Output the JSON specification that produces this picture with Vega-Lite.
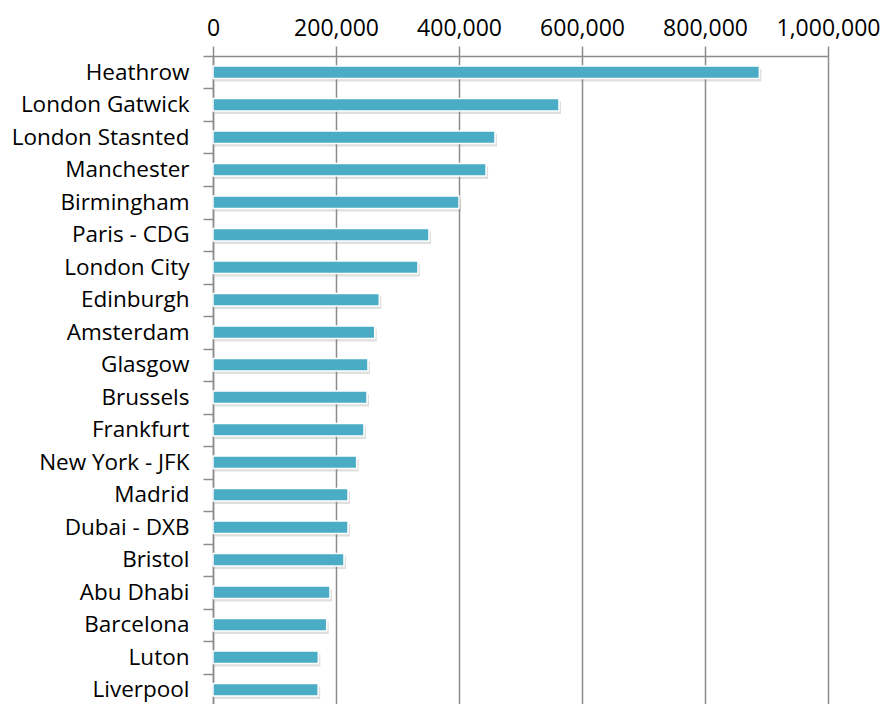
{
  "$schema": "https://vega.github.io/schema/vega-lite/v6.json",
  "width": 615,
  "height": 650,
  "autosize": {"type": "none"},
  "padding": {"left": 213, "top": 56, "right": 54, "bottom": 0},
  "background": "white",
  "config": {
    "view": {"stroke": null},
    "font": "Open Sans"
  },
  "data": {
    "values": [
      {"airport": "Heathrow", "value": 888400},
      {"airport": "London Gatwick", "value": 562600},
      {"airport": "London Stasnted", "value": 458500},
      {"airport": "Manchester", "value": 444000},
      {"airport": "Birmingham", "value": 400000},
      {"airport": "Paris  - CDG", "value": 351200},
      {"airport": "London City", "value": 333300},
      {"airport": "Edinburgh", "value": 270400},
      {"airport": "Amsterdam", "value": 263000},
      {"airport": "Glasgow", "value": 252000},
      {"airport": "Brussels", "value": 250400},
      {"airport": "Frankfurt", "value": 245500},
      {"airport": "New York - JFK", "value": 233600},
      {"airport": "Madrid", "value": 219500},
      {"airport": "Dubai - DXB", "value": 219500},
      {"airport": "Bristol", "value": 213000},
      {"airport": "Abu Dhabi", "value": 190200},
      {"airport": "Barcelona", "value": 184900},
      {"airport": "Luton", "value": 171300},
      {"airport": "Liverpool", "value": 171000}
    ]
  },
  "encoding": {
    "y": {
      "field": "airport",
      "type": "nominal",
      "sort": null,
      "scale": {"paddingInner": 0.62, "paddingOuter": 0.31},
      "axis": {
        "title": null,
        "orient": "left",
        "domainColor": "#8c8c8c",
        "domainWidth": 1.5,
        "tickColor": "#8c8c8c",
        "tickWidth": 1.5,
        "tickSize": 10,
        "tickBand": "center",
        "tickOffset": -16.25,
        "labelOffset": 16.25,
        "labelFontSize": 22.5,
        "labelLimit": 400,
        "labelColor": "#000000",
        "labelPadding": 14,
        "labelFont": "Open Sans",
        "grid": false
      }
    },
    "x": {
      "field": "value",
      "type": "quantitative",
      "scale": {"domain": [0, 1000000], "nice": false},
      "axis": {
        "title": null,
        "orient": "top",
        "values": [0, 200000, 400000, 600000, 800000, 1000000],
        "format": ",d",
        "labelOverlap": false,
        "labelFlush": false,
        "domainColor": "#8c8c8c",
        "domainWidth": 1.5,
        "tickColor": "#8c8c8c",
        "tickWidth": 1.5,
        "tickSize": 10,
        "grid": true,
        "gridColor": "#8c8c8c",
        "gridWidth": 1.5,
        "labelFontSize": 23,
        "labelColor": "#000000",
        "labelPadding": 6,
        "labelFont": "Open Sans"
      }
    }
  },
  "layer": [
    {
      "mark": {"type": "bar", "color": "#7f7f7f", "opacity": 0.25, "xOffset": 2, "yOffset": 3}
    },
    {
      "mark": {"type": "bar", "color": "#4BACC6", "stroke": "#ffffff", "strokeWidth": 1.5}
    }
  ]
}
